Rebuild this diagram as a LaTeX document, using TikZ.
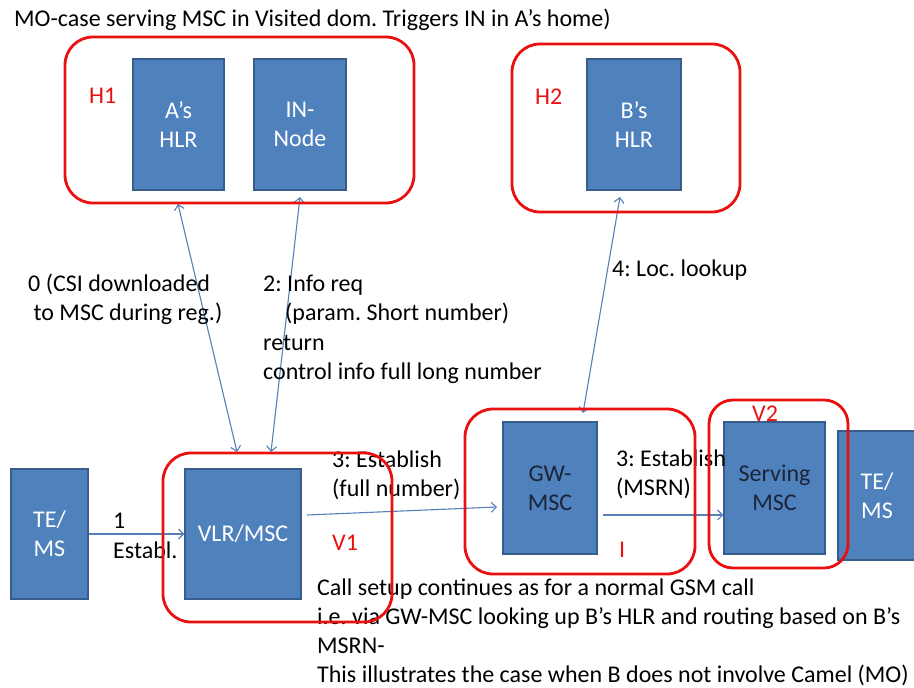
\documentclass[tikz,border=0pt]{standalone}
\usepackage{fontspec}
\setmainfont{Carlito}
\frenchspacing
\usetikzlibrary{arrows.meta}
\definecolor{boxfill}{RGB}{79,129,189}
\definecolor{boxline}{RGB}{56,93,138}
\definecolor{framered}{RGB}{235,16,16}
\definecolor{conn}{RGB}{88,128,184}
\definecolor{darktxt}{RGB}{28,36,56}
\tikzset{
  netbox/.style={draw=boxline, fill=boxfill, line width=1.4pt, text=white, align=center,
    inner sep=0pt, font=\fontsize{24}{29}\selectfont},
  zoneframe/.style={draw=framered, line width=2.8pt, rounded corners=28pt, inner sep=0pt},
  zonelabel/.style={text=framered, inner sep=0pt, anchor=base west, font=\fontsize{24}{29}\selectfont},
  txt/.style={inner sep=0pt, anchor=base west, font=\fontsize{24}{29}\selectfont},
  sigline/.style={draw=conn, line width=1.1pt, -{Straight Barb[length=5pt,width=10pt]}},
  sigboth/.style={draw=conn, line width=1.1pt,
    {Straight Barb[length=5pt,width=10pt]}-{Straight Barb[length=5pt,width=10pt]}}
}
\begin{document}
\begin{tikzpicture}[x=1pt,y=-1pt]
\useasboundingbox (0,0) rectangle (914,688);
\fill[white] (0,0) rectangle (914,688);

% network elements
\node[netbox, minimum width=91pt, minimum height=131pt] (ahlr) at (178.5,124.5) {A’s\\HLR};
\node[netbox, minimum width=92pt, minimum height=131pt] (innode) at (300,124.5) {IN-\\Node};
\node[netbox, minimum width=94pt, minimum height=131pt] (bhlr) at (634,124.5) {B’s\\HLR};
\node[netbox, minimum width=77pt, minimum height=130pt] (msA) at (49.5,534) {TE/\\MS};
\node[netbox, minimum width=116pt, minimum height=130pt] (vlr) at (243,534) {VLR/MSC};
\node[netbox, minimum width=94pt, minimum height=132pt, text=darktxt] (gw) at (550,488) {GW-\\MSC};
\node[netbox, minimum width=101pt, minimum height=132pt, text=darktxt] (serv) at (774.5,488) {Serving\\MSC};
\node[netbox, minimum width=78pt, minimum height=129pt] (msB) at (877,495.5) {TE/\\MS};

% signalling end points
\coordinate (ahlrEnd) at (178,204);
\coordinate (vlrA) at (237,452);
\coordinate (inEnd) at (300,197);
\coordinate (vlrB) at (271,452);
\coordinate (bhlrEnd) at (620,197);
\coordinate (gwTop) at (583,413);
\coordinate (vlrOut) at (307,515);
\coordinate (gwIn) at (497,507);
\coordinate (gwOut) at (603,515);

\draw[sigboth] (ahlrEnd) -- (vlrA);
\draw[sigboth] (inEnd) -- (vlrB);
\draw[sigboth] (bhlrEnd) -- (gwTop);
\draw[sigline] (msA.east) -- (vlr.west);
\draw[sigline] (vlrOut) -- (gwIn);
\draw[sigline] (gwOut) -- (gwOut -| serv.west);

% texts
\node[txt] (title) at (14,27) {MO-case serving MSC in Visited dom. Triggers IN in A’s home)};
\node[txt] (csiA) at (28,291) {0 (CSI downloaded};
\node[txt] (csiB) at (28,320.5) {\ to MSC during reg.)};
\node[txt] (infoA) at (263,291) {2: Info req};
\node[txt] (infoB) at (285,320.5) {(param. Short number)};
\node[txt] (infoC) at (263,350) {return};
\node[txt] (infoD) at (263,379.5) {control info full long number};
\node[txt] (loc) at (612,276) {4: Loc. lookup};
\node[txt] (estA) at (113,528) {1};
\node[txt] (estB) at (113,558) {Establ.};
\node[txt] (fullA) at (332,467) {3: Establish};
\node[txt] (fullB) at (332,496) {(full number)};
\node[txt] (msrnA) at (616,466) {3: Establish};
\node[txt] (msrnB) at (616,495) {(MSRN)};
\node[txt] (noteA) at (317,595) {Call setup continues as for a normal GSM call};
\node[txt] (noteB) at (317,624) {i.e. via GW-MSC looking up B’s HLR and routing based on B’s};
\node[txt] (noteC) at (317,653) {MSRN-};
\node[txt] (noteD) at (317,682) {This illustrates the case when B does not involve Camel (MO)};

% domains
\node[zoneframe, minimum width=349pt, minimum height=166pt] (H1) at (239.5,120) {};
\node[zoneframe, minimum width=228pt, minimum height=168pt] (H2) at (626,128) {};
\node[zoneframe, minimum width=229pt, minimum height=169pt] (V1) at (277.5,537.5) {};
\node[zoneframe, minimum width=230pt, minimum height=165pt] (I) at (580,491.5) {};
\node[zoneframe, minimum width=139pt, minimum height=168pt, rounded corners=24pt] (V2) at (778.5,484) {};

\node[zonelabel] (lH1) at (89,103) {H1};
\node[zonelabel] (lH2) at (535,104) {H2};
\node[zonelabel] (lV1) at (332,550) {V1};
\node[zonelabel] (lV2) at (752,421) {V2};
\node[zonelabel] (lI) at (619,557) {I};
\end{tikzpicture}
\end{document}
